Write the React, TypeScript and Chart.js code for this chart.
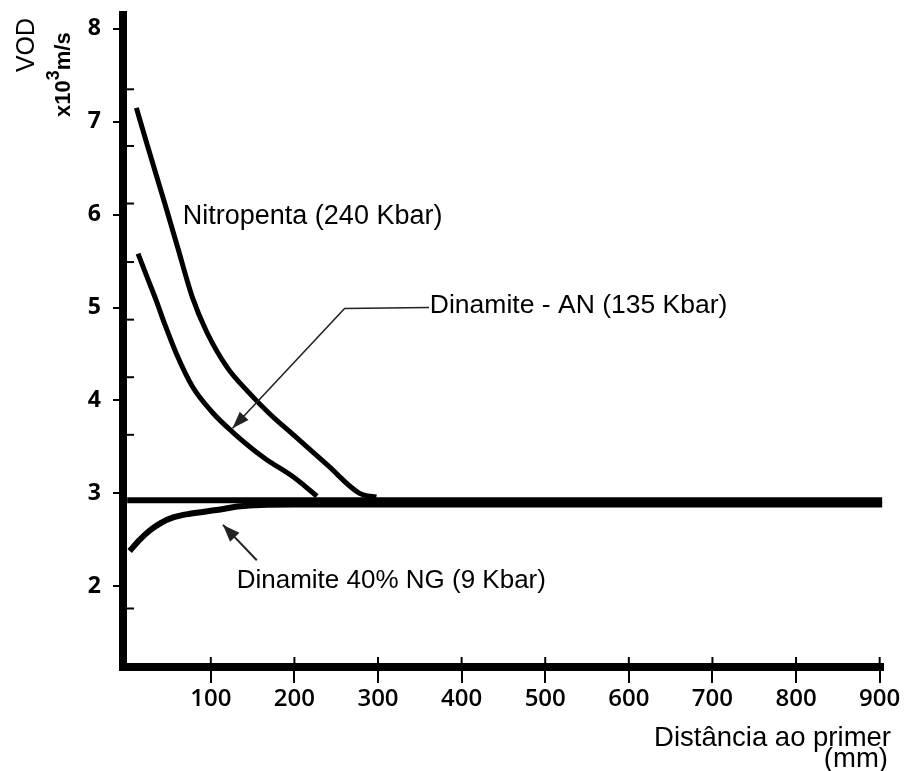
import React, { useEffect, useRef } from "react";
import { Chart, registerables } from "chart.js";

Chart.register(...registerables);

// ---------- data ----------
const nitroX = [11, 25, 45, 60, 78, 95, 120, 145, 170, 200, 240, 278, 298];
const nitroY = [7.15, 6.72, 6.12, 5.66, 5.11, 4.74, 4.35, 4.09, 3.86, 3.62, 3.3, 3.0, 2.96];

const anX = [13, 25, 35, 45, 59, 78, 102, 126, 164, 198, 227];
const anY = [5.58, 5.3, 5.07, 4.82, 4.5, 4.15, 3.87, 3.66, 3.38, 3.18, 2.97];

const ngX = [3, 15, 27, 40, 55, 75, 107, 135, 160, 200, 903];
const ngY = [2.38, 2.5, 2.6, 2.68, 2.74, 2.78, 2.82, 2.86, 2.875, 2.88, 2.88];

const baseX = [0, 903];
const baseY = [2.925, 2.925];

const xTicks = [100, 200, 300, 400, 500, 600, 700, 800, 900];
const yTicks = [2, 3, 4, 5, 6, 7, 8];
const yMinorTicks = [7.35, 6.74, 6.12, 5.49, 4.87, 4.25, 3.63, 1.76];

const labelTexts = ["Nitropenta (240 Kbar)", "Dinamite - AN (135 Kbar)", "Dinamite 40% NG (9 Kbar)"];
const labelX = [66.5, 362, 131];
const labelY = [5.9, 4.94, 1.98];

const anLeaderX = [361, 260, 126];
const anLeaderY = [5.0, 4.99, 3.7];
const ngArrowX = [155, 114.6];
const ngArrowY = [2.28, 2.66];

const xTitleLines = ["Distância ao primer", "(mm)"];
const yTitle = "VOD";
const yUnitParts = ["x10", "3", "m/s"];

// ---------- styles ----------
const TXT = '"Liberation Sans", Arial, sans-serif';
const NUM = '"Open Sans", "DejaVu Sans", sans-serif';
const LABEL_SIZES = [27, 26.5, 26];
const W = 909;
const H = 771;

const toPts = (xs: number[], ys: number[]) => xs.map((x, i) => ({ x, y: ys[i] }));

function arrowHead(ctx: CanvasRenderingContext2D, fx: number, fy: number, tx: number, ty: number, len: number, half: number) {
  const dx = tx - fx, dy = ty - fy;
  const d = Math.hypot(dx, dy) || 1;
  const ux = dx / d, uy = dy / d;
  const bx = tx - ux * len, by = ty - uy * len;
  ctx.beginPath();
  ctx.moveTo(tx, ty);
  ctx.lineTo(bx - uy * half, by + ux * half);
  ctx.lineTo(bx + uy * half, by - ux * half);
  ctx.closePath();
  ctx.fill();
}

export default function App() {
  const ref = useRef<HTMLCanvasElement>(null);

  useEffect(() => {
    const canvas = ref.current;
    if (!canvas) return;

    const annot = {
      id: "annot",
      afterDraw(chart: any) {
        const ctx: CanvasRenderingContext2D = chart.ctx;
        const xs = chart.scales.x, ys = chart.scales.y;
        const px = (v: number) => xs.getPixelForValue(v);
        const py = (v: number) => ys.getPixelForValue(v);
        const a = chart.chartArea;
        ctx.save();
        ctx.fillStyle = "#000";
        ctx.strokeStyle = "#000";

        // fill the axis corner
        ctx.fillRect(a.left - 4, a.bottom - 4, 8, 8);

        // minor ticks on the inner side of the y axis
        ctx.lineWidth = 2;
        yMinorTicks.forEach((v) => {
          const y = py(v);
          ctx.beginPath();
          ctx.moveTo(a.left + 3, y);
          ctx.lineTo(a.left + 11, y);
          ctx.stroke();
        });

        // x ticks also poke slightly above the axis line
        xTicks.forEach((v) => {
          const x = px(v);
          ctx.beginPath();
          ctx.moveTo(x, a.bottom - 10);
          ctx.lineTo(x, a.bottom);
          ctx.stroke();
        });

        // curve labels
        ctx.textAlign = "left";
        ctx.textBaseline = "alphabetic";
        labelTexts.forEach((t, i) => {
          ctx.font = `${LABEL_SIZES[i]}px ${TXT}`;
          ctx.fillText(t, px(labelX[i]), py(labelY[i]));
        });

        // AN leader with arrow
        ctx.strokeStyle = "#222";
        ctx.fillStyle = "#222";
        ctx.lineWidth = 1.6;
        ctx.beginPath();
        anLeaderX.forEach((x, i) => (i === 0 ? ctx.moveTo(px(x), py(anLeaderY[i])) : ctx.lineTo(px(x), py(anLeaderY[i]))));
        ctx.stroke();
        const n = anLeaderX.length;
        arrowHead(ctx, px(anLeaderX[n - 2]), py(anLeaderY[n - 2]), px(anLeaderX[n - 1]), py(anLeaderY[n - 1]), 17, 6);

        // NG arrow
        ctx.lineWidth = 2;
        ctx.beginPath();
        ctx.moveTo(px(ngArrowX[0]), py(ngArrowY[0]));
        ctx.lineTo(px(ngArrowX[1]), py(ngArrowY[1]));
        ctx.stroke();
        arrowHead(ctx, px(ngArrowX[0]), py(ngArrowY[0]), px(ngArrowX[1]), py(ngArrowY[1]), 17, 6.5);

        // x axis title (right aligned, two lines)
        ctx.fillStyle = "#000";
        ctx.font = `27.5px ${TXT}`;
        ctx.textAlign = "right";
        ctx.fillText(xTitleLines[0], 891, 746);
        ctx.fillText(xTitleLines[1], 888, 767);

        // y axis title (rotated)
        ctx.save();
        ctx.translate(34, 45);
        ctx.rotate(-Math.PI / 2);
        ctx.textAlign = "center";
        ctx.textBaseline = "alphabetic";
        ctx.font = `25px ${TXT}`;
        ctx.fillText(yTitle, 0, 0);
        ctx.restore();

        ctx.save();
        ctx.translate(70, 117);
        ctx.rotate(-Math.PI / 2);
        ctx.textAlign = "left";
        ctx.textBaseline = "alphabetic";
        ctx.font = `bold 22px ${TXT}`;
        ctx.fillText(yUnitParts[0], 0, 0);
        let w = ctx.measureText(yUnitParts[0]).width;
        ctx.font = `bold 18px ${TXT}`;
        ctx.fillText(yUnitParts[1], w, -11);
        w += ctx.measureText(yUnitParts[1]).width;
        ctx.font = `bold 22px ${TXT}`;
        ctx.fillText(yUnitParts[2], w, 0);
        ctx.restore();

        ctx.restore();
      },
    };

    const lineDs = (pts: any[], width: number) => ({
      data: pts,
      borderColor: "#000",
      borderWidth: width,
      pointRadius: 0,
      fill: false,
      cubicInterpolationMode: "monotone" as const,
    });

    const chart = new Chart(canvas, {
      type: "line",
      data: {
        datasets: [
          lineDs(toPts(baseX, baseY), 6),
          lineDs(toPts(ngX, ngY), 6),
          lineDs(toPts(nitroX, nitroY), 5),
          lineDs(toPts(anX, anY), 5),
        ],
      },
      options: {
        animation: false,
        responsive: false,
        devicePixelRatio: 1,
        layout: { padding: { left: 0, top: 15, right: 26, bottom: 0 } },
        plugins: { legend: { display: false }, tooltip: { enabled: false } },
        scales: {
          x: {
            type: "linear",
            min: -5,
            max: 904,
            afterBuildTicks: (s: any) => {
              s.ticks = xTicks.map((v) => ({ value: v }));
            },
            afterFit: (s: any) => {
              s.height = 104;
            },
            border: { color: "#000", width: 8 },
            grid: { drawOnChartArea: false, color: "#000", lineWidth: 2, tickLength: 16 },
            ticks: {
              color: "#000",
              font: { family: NUM, size: 24, weight: 600 as any },
              padding: 2,
              maxRotation: 0,
              autoSkip: false,
              callback: (v: any) => String(v),
            },
          },
          y: {
            type: "linear",
            min: 1.13,
            max: 8.15,
            afterBuildTicks: (s: any) => {
              s.ticks = yTicks.map((v) => ({ value: v }));
            },
            afterFit: (s: any) => {
              s.width = 123;
            },
            border: { color: "#000", width: 8 },
            grid: { drawOnChartArea: false, color: "#000", lineWidth: 2, tickLength: 10 },
            ticks: {
              color: "#000",
              font: { family: NUM, size: 23, weight: 700 as any, lineHeight: 0.1 },
              padding: 12,
              autoSkip: false,
              callback: (v: any) => String(v),
            },
          },
        },
      },
      plugins: [annot],
    });

    return () => chart.destroy();
  }, []);

  return (
    <div style={{ position: "fixed", left: 0, top: 0, width: W, height: H, background: "#fff" }}>
      <canvas ref={ref} width={W} height={H} style={{ display: "block", width: W, height: H }} />
    </div>
  );
}
